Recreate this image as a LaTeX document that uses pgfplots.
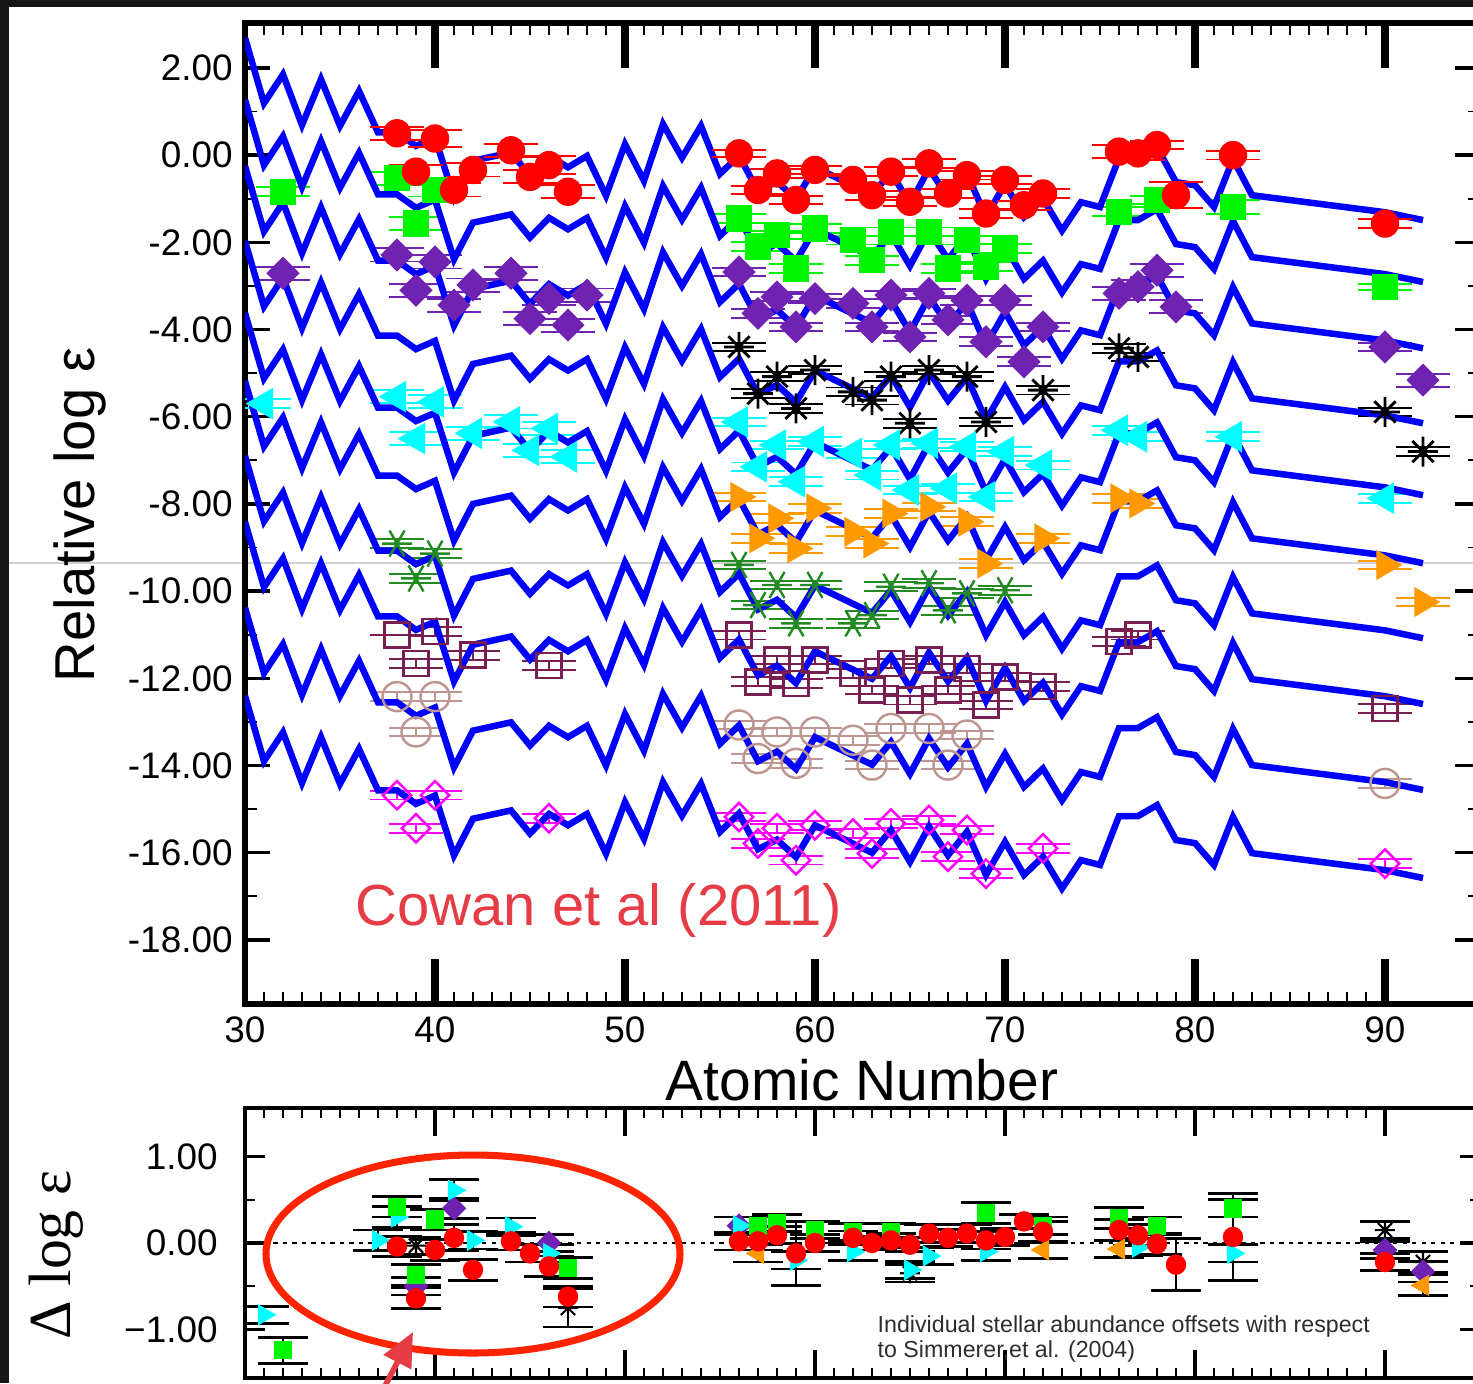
\documentclass[border=0pt]{standalone}
\usepackage{fontspec}
\setmainfont{Liberation Sans}
\newfontfamily\seriffont{Liberation Serif}
\usepackage{pgfplots}
\pgfplotsset{compat=1.18}
\usepackage{pgfplotstable}
\usetikzlibrary{arrows.meta}

\definecolor{cred}{RGB}{255,0,0}
\definecolor{cgreen}{RGB}{0,245,0}
\definecolor{cpurple}{RGB}{112,34,178}
\definecolor{ccyan}{RGB}{0,255,255}
\definecolor{corange}{RGB}{255,153,0}
\definecolor{cdkgreen}{RGB}{34,139,34}
\definecolor{cmaroon}{RGB}{120,30,80}
\definecolor{ctan}{RGB}{190,150,145}
\definecolor{cmagenta}{RGB}{255,0,255}
\definecolor{cblue}{RGB}{0,0,255}
\definecolor{cowan}{RGB}{230,60,70}
\definecolor{ellred}{RGB}{255,35,0}
\definecolor{darkbg}{RGB}{22,20,22}
\definecolor{notegray}{RGB}{45,45,45}

\pgfdeclareplotmark{ast8}{%
  \pgfpathmoveto{\pgfqpoint{0pt}{\pgfplotmarksize}}\pgfpathlineto{\pgfqpoint{0pt}{-\pgfplotmarksize}}%
  \pgfpathmoveto{\pgfqpoint{-\pgfplotmarksize}{0pt}}\pgfpathlineto{\pgfqpoint{\pgfplotmarksize}{0pt}}%
  \pgfpathmoveto{\pgfqpoint{.7071\pgfplotmarksize}{.7071\pgfplotmarksize}}\pgfpathlineto{\pgfqpoint{-.7071\pgfplotmarksize}{-.7071\pgfplotmarksize}}%
  \pgfpathmoveto{\pgfqpoint{-.7071\pgfplotmarksize}{.7071\pgfplotmarksize}}\pgfpathlineto{\pgfqpoint{.7071\pgfplotmarksize}{-.7071\pgfplotmarksize}}%
  \pgfusepathqstroke}

% scaled solar r-process curve (lowest copy); the others are the same curve shifted
\pgfplotstableread{
z y
30 -12.40
31 -13.90
32 -13.24
33 -14.40
34 -13.35
35 -14.42
36 -13.62
37 -14.57
38 -14.57
39 -14.88
40 -14.69
41 -16.06
42 -15.22
44 -15.03
45 -15.56
46 -15.11
47 -15.37
48 -15.11
49 -16.02
50 -14.84
51 -15.68
52 -14.38
53 -15.15
54 -14.42
55 -15.52
56 -15.10
57 -15.92
58 -15.70
59 -16.10
60 -15.37
63 -16.00
64 -15.48
65 -16.21
66 -15.40
67 -16.06
68 -15.52
69 -16.51
70 -15.75
71 -16.51
72 -16.09
73 -16.82
74 -16.17
75 -16.28
76 -15.16
77 -15.16
78 -14.91
79 -15.71
80 -15.78
81 -16.28
82 -15.18
83 -16.01
90 -16.40
92 -16.58
}\curve

\pgfplotstableread{
x y e
38 0.50 0.15
39 -0.38 0.15
40 0.38 0.2
41 -0.80 0.15
42 -0.34 0.15
44 0.11 0.15
45 -0.50 0.15
46 -0.23 0.2
47 -0.84 0.15
56 0.04 0.08
57 -0.80 0.1
58 -0.42 0.1
59 -1.03 0.1
60 -0.34 0.1
62 -0.57 0.1
63 -0.92 0.1
64 -0.38 0.1
65 -1.07 0.1
66 -0.19 0.1
67 -0.88 0.1
68 -0.46 0.1
69 -1.34 0.1
70 -0.57 0.1
71 -1.15 0.1
72 -0.88 0.1
76 0.08 0.15
77 0.04 0.15
78 0.23 0.1
79 -0.92 0.3
82 0.00 0.1
90 -1.57 0.1
}\sA
\pgfplotstableread{
x y e
32 -0.84 0.1
38 -0.53 0.15
39 -1.57 0.15
40 -0.80 0.15
56 -1.45 0.1
57 -2.10 0.1
58 -1.83 0.1
59 -2.60 0.1
60 -1.68 0.1
62 -1.95 0.1
63 -2.41 0.1
64 -1.76 0.1
66 -1.76 0.1
67 -2.60 0.1
68 -1.95 0.1
69 -2.56 0.1
70 -2.14 0.1
76 -1.30 0.1
78 -1.03 0.1
82 -1.19 0.15
90 -3.02 0.07
}\sB
\pgfplotstableread{
x y e
32 -2.71 0.15
38 -2.29 0.15
39 -3.10 0.15
40 -2.45 0.15
41 -3.44 0.15
42 -2.98 0.15
44 -2.71 0.15
45 -3.75 0.15
46 -3.29 0.15
47 -3.90 0.15
48 -3.21 0.15
56 -2.68 0.1
57 -3.63 0.1
58 -3.25 0.1
59 -3.94 0.1
60 -3.29 0.1
62 -3.40 0.1
63 -3.94 0.1
64 -3.21 0.1
65 -4.17 0.1
66 -3.17 0.1
67 -3.78 0.1
68 -3.33 0.1
69 -4.28 0.1
70 -3.33 0.1
71 -4.74 0.1
72 -3.94 0.1
76 -3.17 0.15
77 -3.02 0.15
78 -2.64 0.15
79 -3.48 0.15
90 -4.40 0.1
92 -5.16 0.15
}\sC
\pgfplotstableread{
x y e
56 -4.40 0.1
57 -5.47 0.1
58 -5.08 0.1
59 -5.81 0.1
60 -4.93 0.1
62 -5.43 0.1
63 -5.62 0.1
64 -5.08 0.1
65 -6.15 0.1
66 -4.93 0.1
68 -5.08 0.1
69 -6.12 0.1
72 -5.39 0.1
76 -4.43 0.1
77 -4.63 0.1
90 -5.89 0.1
92 -6.80 0.1
}\sD
\pgfplotstableread{
x y e
31 -5.70 0.1
38 -5.54 0.15
39 -6.50 0.15
40 -5.66 0.15
42 -6.38 0.15
44 -6.12 0.15
45 -6.77 0.15
46 -6.27 0.15
47 -6.92 0.15
56 -6.12 0.1
57 -7.15 0.1
58 -6.65 0.1
59 -7.49 0.1
60 -6.57 0.1
62 -6.84 0.1
63 -7.34 0.1
64 -6.65 0.1
65 -7.68 0.1
66 -6.61 0.1
67 -7.64 0.1
68 -6.69 0.1
69 -7.84 0.1
70 -6.80 0.1
72 -7.11 0.1
76 -6.31 0.1
77 -6.46 0.1
82 -6.46 0.1
90 -7.87 0.1
}\sE
\pgfplotstableread{
x y e
56 -7.84 0.1
57 -8.79 0.1
58 -8.33 0.1
59 -9.02 0.1
60 -8.10 0.1
62 -8.64 0.1
63 -8.91 0.1
64 -8.22 0.1
66 -8.07 0.1
68 -8.41 0.1
69 -9.37 0.1
72 -8.79 0.1
76 -7.87 0.1
77 -7.99 0.1
90 -9.40 0.1
92 -10.25 0.1
}\sF
\pgfplotstableread{
x y e
38 -8.91 0.1
39 -9.71 0.1
40 -9.14 0.1
56 -9.40 0.1
57 -10.32 0.1
58 -9.86 0.1
59 -10.74 0.1
60 -9.86 0.1
62 -10.74 0.1
63 -10.55 0.1
64 -9.90 0.1
66 -9.82 0.1
67 -10.44 0.1
68 -10.05 0.1
70 -9.98 0.1
}\sG
\pgfplotstableread{
x y e
38 -11.01 0
39 -11.66 0.1
40 -10.93 0.1
42 -11.47 0.1
46 -11.70 0.1
56 -11.01 0.1
57 -12.08 0.1
58 -11.58 0.1
59 -12.12 0.1
60 -11.58 0.1
62 -11.89 0.1
63 -12.27 0.1
64 -11.66 0.1
65 -12.50 0.1
66 -11.58 0.1
67 -12.27 0.1
68 -11.77 0.1
69 -12.61 0.1
70 -11.97 0.1
72 -12.19 0.1
76 -11.16 0.1
77 -11.01 0.1
90 -12.69 0.1
}\sH
\pgfplotstableread{
x y e
38 -12.42 0.1
39 -13.23 0.1
40 -12.42 0.1
56 -13.07 0.1
57 -13.84 0.1
58 -13.23 0.1
59 -13.95 0.1
60 -13.23 0.1
62 -13.42 0.1
63 -13.99 0.1
64 -13.15 0.1
66 -13.15 0.1
67 -13.99 0.1
68 -13.30 0.1
90 -14.41 0.1
}\sI
\pgfplotstableread{
x y e
38 -14.68 0.1
39 -15.44 0.1
40 -14.68 0.1
46 -15.21 0.1
56 -15.18 0.1
57 -15.79 0.1
58 -15.44 0.1
59 -16.17 0.1
60 -15.37 0.1
62 -15.56 0.1
63 -16.02 0.1
64 -15.33 0.1
66 -15.25 0.1
67 -16.09 0.1
68 -15.48 0.1
69 -16.48 0.1
72 -15.90 0.1
90 -16.25 0.1
}\sJ

% lower panel: offsets
\pgfplotstableread{
x y e
38 -0.04 0.12
39 -0.64 0.12
40 -0.08 0.12
41 0.06 0.15
42 -0.31 0.12
44 0.02 0.1
45 -0.12 0.1
46 -0.27 0.12
47 -0.62 0.12
56 0.02 0.1
57 0.02 0.1
58 0.09 0.1
59 -0.12 0.37
60 0.00 0.1
62 0.06 0.08
63 0.00 0.08
64 0.03 0.08
65 -0.02 0.08
66 0.11 0.1
67 0.06 0.1
68 0.11 0.1
69 0.03 0.1
70 0.07 0.1
71 0.25 0.08
72 0.13 0.12
76 0.15 0.12
77 0.09 0.12
78 -0.01 0.12
79 -0.25 0.3
82 0.07 0.5
90 -0.22 0.1
}\dRed
\pgfplotstableread{
x y e
32 -1.24 0.15
38 0.42 0.12
39 -0.37 0.12
40 0.27 0.12
47 -0.29 0.12
57 0.20 0.1
58 0.23 0.1
60 0.15 0.1
62 0.13 0.1
64 0.13 0.1
69 0.35 0.12
72 0.20 0.1
76 0.29 0.12
78 0.20 0.1
82 0.40 0.1
}\dGreen
\pgfplotstableread{
x y e
31 -0.83 0.1
37 0.03 0.12
38 0.30 0.12
41 0.61 0.12
42 0.03 0.1
44 0.19 0.1
46 -0.12 0.1
56 0.20 0.1
59 -0.20 0.1
62 -0.10 0.1
65 -0.31 0.1
66 -0.15 0.1
69 -0.10 0.1
77 -0.05 0.1
82 -0.12 0.1
}\dCyan
\pgfplotstableread{
x y e
39 -0.50 0.1
41 0.40 0.12
46 0.00 0.1
56 0.20 0.1
90 -0.08 0.1
92 -0.33 0.12
}\dPurple
\pgfplotstableread{
x y e
57 -0.12 0.1
72 -0.08 0.1
76 -0.07 0.1
92 -0.49 0.12
}\dOrange
\pgfplotstableread{
x y e
39 -0.03 0.1
47 -0.75 0.22
65 -0.35 0.1
90 0.15 0.1
92 -0.22 0.12
}\dBlack

\pgfplotsset{
  topbars/.style={/pgfplots/error bars/y dir=both, /pgfplots/error bars/y explicit,
    /pgfplots/error bars/error bar style={line width=0.55pt, #1, solid},
    /pgfplots/error bars/error mark options={rotate=90, mark size=0.27cm, line width=0.55pt, #1, solid}},
  botbars/.style={/pgfplots/error bars/y dir=both, /pgfplots/error bars/y explicit,
    /pgfplots/error bars/error bar style={line width=0.8pt, black, solid},
    /pgfplots/error bars/error mark options={rotate=90, mark size=0.25cm, line width=0.8pt, black, solid}},
  curve/.style={cblue, line width=1.85pt, no marks},
}

\begin{document}
\begin{tikzpicture}
\fill[darkbg] (0,0) rectangle (14.73,-13.83);
\fill[white] (0.09,-0.07) rectangle (14.75,-13.85);
\draw[black!18, line width=0.6pt] (0.09,-5.63) -- (14.75,-5.63);

\begin{axis}[
  at={(2.45cm,-10.04cm)}, anchor=south west,
  scale only axis, width=12.35cm, height=9.81cm,
  xmin=30, xmax=95, ymin=-19.47, ymax=3.03,
  axis line style={line width=1.6pt},
  tick align=inside,
  xtick={30,40,...,90}, xticklabels={30,40,50,60,70,80,90},
  minor x tick num=9,
  ytick={-18,-16,...,2},
  yticklabels={-18.00,-16.00,-14.00,-12.00,-10.00,-8.00,-6.00,-4.00,-2.00,0.00,2.00},
  minor y tick num=1,
  major tick length=0.25cm, minor tick length=0.12cm,
  tick style={black, line width=1pt},
  minor tick style={line width=0.55pt},
  extra x ticks={40,50,60,70,80,90}, extra x tick labels={},
  extra x tick style={major tick length=0.45cm, tick style={line width=2.1pt}},
  tick label style={font=\fontsize{10.5}{12}\selectfont},
]
% star points (drawn below the curves)
\addplot[only marks, color=cgreen, mark=square*, mark size=0.125cm, topbars=cgreen] table[x=x,y=y,y error=e]{\sB};
\addplot[only marks, color=cpurple, mark=square*, mark size=0.11cm, mark options={rotate=45}, topbars=cpurple] table[x=x,y=y,y error=e]{\sC};
\addplot[only marks, color=black, mark=ast8, mark size=0.15cm, mark options={line width=0.8pt}, topbars=black] table[x=x,y=y,y error=e]{\sD};
\addplot[only marks, color=ccyan, mark=triangle*, mark size=0.17cm, mark options={rotate=90}, topbars=ccyan] table[x=x,y=y,y error=e]{\sE};
\addplot[only marks, color=corange, mark=triangle*, mark size=0.16cm, mark options={rotate=-90}, topbars=corange] table[x=x,y=y,y error=e]{\sF};
\addplot[only marks, color=cdkgreen, mark=asterisk, mark size=0.15cm, mark options={rotate=90, line width=0.7pt}, topbars=cdkgreen] table[x=x,y=y,y error=e]{\sG};
\addplot[only marks, color=cmaroon, mark=square, mark size=0.125cm, mark options={line width=0.7pt}, topbars=cmaroon] table[x=x,y=y,y error=e]{\sH};
\addplot[only marks, color=ctan, mark=o, mark size=0.145cm, mark options={line width=0.7pt}, topbars=ctan] table[x=x,y=y,y error=e]{\sI};
\addplot[only marks, color=cmagenta, mark=square, mark size=0.1cm, mark options={rotate=45, line width=0.7pt}, topbars=cmagenta] table[x=x,y=y,y error=e]{\sJ};
% ten shifted copies of the r-process curve
\addplot[curve] table[x=z, y expr=\thisrow{y}+15.09]{\curve};
\addplot[curve] table[x=z, y expr=\thisrow{y}+13.67]{\curve};
\addplot[curve] table[x=z, y expr=\thisrow{y}+12.15]{\curve};
\addplot[curve] table[x=z, y expr=\thisrow{y}+10.43]{\curve};
\addplot[curve] table[x=z, y expr=\thisrow{y}+8.78]{\curve};
\addplot[curve] table[x=z, y expr=\thisrow{y}+7.22]{\curve};
\addplot[curve] table[x=z, y expr=\thisrow{y}+5.50]{\curve};
\addplot[curve] table[x=z, y expr=\thisrow{y}+3.99]{\curve};
\addplot[curve] table[x=z, y expr=\thisrow{y}+2.02]{\curve};
\addplot[curve] table[x=z, y=y]{\curve};
% red circles on top
\addplot[only marks, color=cred, mark=*, mark size=0.135cm, topbars=cred] table[x=x,y=y,y error=e]{\sA};
\end{axis}

\begin{axis}[
  at={(2.45cm,-13.78cm)}, anchor=south west,
  scale only axis, width=12.35cm, height=2.70cm,
  xmin=30, xmax=95, ymin=-1.561, ymax=1.561,
  axis line style={line width=1pt},
  tick align=inside,
  xtick={30,40,...,90}, xticklabels={},
  minor x tick num=9,
  ytick={-1,0,1}, yticklabels={−1.00,0.00,1.00},
  minor y tick num=1,
  major tick length=0.2cm, minor tick length=0.1cm,
  tick style={black, line width=0.9pt},
  minor tick style={line width=0.5pt},
  extra x ticks={40,50,60,70,80,90}, extra x tick labels={},
  extra x tick style={major tick length=0.28cm, tick style={line width=1.3pt}},
  yticklabel style={xshift=-0.15cm},
  tick label style={font=\fontsize{10.5}{12}\selectfont},
]
\addplot[black, line width=0.8pt, dash pattern=on 1.2pt off 1.5pt, no marks] coordinates {(30,0) (95,0)};
\addplot[only marks, color=black, mark=ast8, mark size=0.1cm, mark options={line width=0.6pt}, botbars] table[x=x,y=y,y error=e]{\dBlack};
\addplot[only marks, color=cpurple, mark=square*, mark size=0.08cm, mark options={rotate=45}, botbars] table[x=x,y=y,y error=e]{\dPurple};
\addplot[only marks, color=corange, mark=triangle*, mark size=0.11cm, mark options={rotate=90}, botbars] table[x=x,y=y,y error=e]{\dOrange};
\addplot[only marks, color=ccyan, mark=triangle*, mark size=0.11cm, mark options={rotate=-90}, botbars] table[x=x,y=y,y error=e]{\dCyan};
\addplot[only marks, color=cgreen, mark=square*, mark size=0.085cm, botbars] table[x=x,y=y,y error=e]{\dGreen};
\addplot[only marks, color=cred, mark=*, mark size=0.095cm, botbars] table[x=x,y=y,y error=e]{\dRed};
\end{axis}

% texts and annotations
\node[font=\fontsize{16}{19}\selectfont, rotate=90] at (0.80,-5.15) {Relative log ε};
\node[font=\fontsize{16.2}{19}\selectfont, anchor=base] at (8.62,-11.00) {Atomic Number};
\node[font=\seriffont\fontsize{17}{20}\selectfont, rotate=90] at (0.56,-12.55) {Δ log ε};
\node[font=\fontsize{16.5}{19}\selectfont, text=cowan, anchor=base west, inner sep=0pt] at (3.55,-9.25) {Cowan et al (2011)};
\node[font=\fontsize{6.6}{7.2}\selectfont, text=notegray, anchor=base west, inner sep=0pt] at (8.77,-13.32) {Individual stellar abundance offsets with respect};
\node[font=\fontsize{6.6}{7.2}\selectfont, text=notegray, anchor=base west, inner sep=0pt] at (8.77,-13.57) {to Simmerer,et al. (2004)};
\draw[ellred, line width=2pt] (4.73,-12.54) ellipse [x radius=2.07, y radius=0.99];
\draw[cowan, line width=1.6pt, -{Triangle[length=0.34cm, width=0.3cm]}] (3.85,-13.86) -- (4.13,-13.32);

\pgfresetboundingbox
\path[use as bounding box] (0,0) rectangle (14.73,-13.83);
\end{tikzpicture}
\end{document}
